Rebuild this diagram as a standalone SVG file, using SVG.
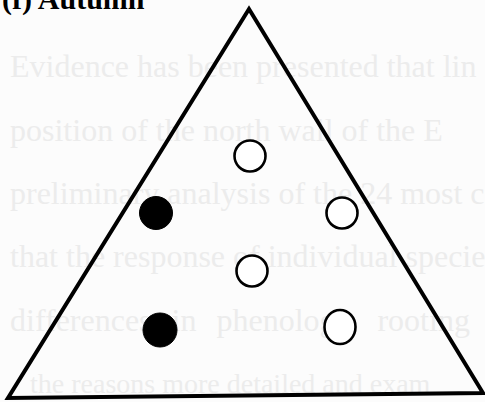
<svg xmlns="http://www.w3.org/2000/svg" width="485" height="402" viewBox="0 0 485 402">
<style>
.bg{font-family:"Liberation Serif",serif;font-size:32px;fill:#ececec}
.title{font-family:"Liberation Serif",serif;font-size:30px;font-weight:bold;fill:#000}
.open{fill:#fff;stroke:#000;stroke-width:2.6}
.filled{fill:#000;stroke:#000;stroke-width:1}
.tri{fill:none;stroke:#000;stroke-width:4;stroke-linejoin:miter}
</style>
<rect width="485" height="402" fill="#fcfcfc"/>
<g id="bleed-through">
<text class="bg" x="10" y="77">Evidence has been presented that lin</text>
<text class="bg" x="10" y="141">position of the north wall of the E</text>
<text class="bg" x="10" y="204">preliminary analysis of the 24 most c</text>
<text class="bg" x="10" y="267">that the response of individual specie</text>
<text class="bg" x="10" y="331" word-spacing="12">differences in phenology, rooting</text>
<text class="bg" x="30" y="393" style="font-size:28px">the reasons more detailed and exam</text>
</g>
<text class="title" x="2" y="9">(f) Autumn</text>
<g id="triangle">
<polygon class="tri" points="249,9 8,398 483,393"/>
</g>
<g id="nodes">
<g id="o1"><circle class="open" cx="250" cy="156" r="15.5"/></g>
<g id="f1"><circle class="filled" cx="156" cy="213" r="16.5"/></g>
<g id="o2"><circle class="open" cx="342" cy="213" r="15.5"/></g>
<g id="o3"><circle class="open" cx="252" cy="271" r="15.5"/></g>
<g id="f2"><circle class="filled" cx="160" cy="330" r="17"/></g>
<g id="o4"><ellipse class="open" cx="340" cy="327" rx="15.5" ry="17"/></g>
</g>
</svg>
